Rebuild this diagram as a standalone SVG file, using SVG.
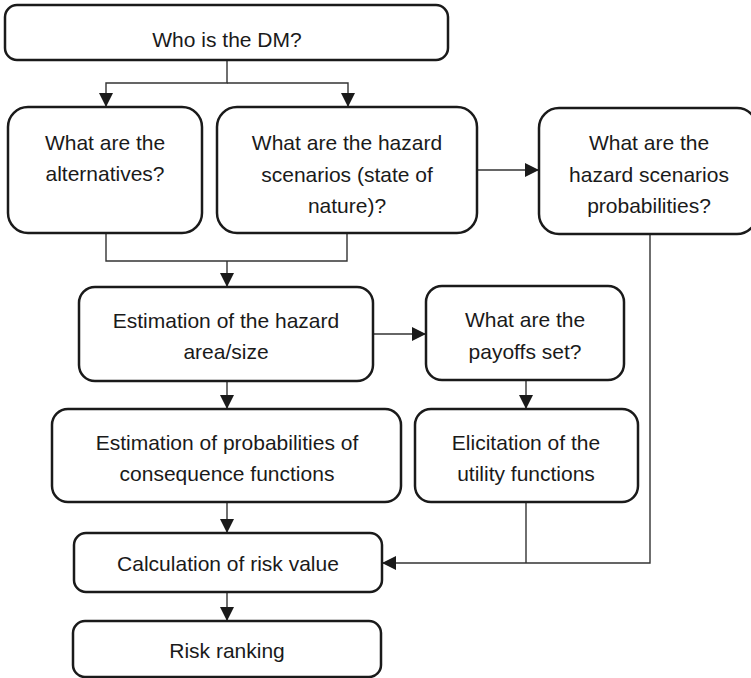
<svg xmlns="http://www.w3.org/2000/svg" width="751" height="678" viewBox="0 0 751 678">
  <style>
    .box { fill: #ffffff; stroke: #1a1a1a; stroke-width: 2.5; }
    .lbl { font-family: "Liberation Sans", Arial, sans-serif; font-size: 21px; fill: #1a1a1a; text-anchor: middle; }
    .wire { fill: none; stroke: #333333; stroke-width: 1.4; }
    .arrow { marker-end: url(#head); }
  </style>
  <defs>
    <marker id="head" markerUnits="userSpaceOnUse" viewBox="0 0 14 14" markerWidth="14" markerHeight="14" refX="14" refY="7" orient="auto">
      <path d="M0,0 L14,7 L0,14 z" fill="#1a1a1a"/>
    </marker>
  </defs>
  <rect width="751" height="678" fill="#ffffff"/>

  <g id="connectors">
    <path class="wire arrow" d="M227,60 V83 H106 V107"/>
    <path class="wire arrow" d="M227,83 H348 V107"/>
    <path class="wire" d="M106,233 V261 H347 V233"/>
    <path class="wire arrow" d="M227,261 V287"/>
    <path class="wire arrow" d="M477,170 H539"/>
    <path class="wire arrow" d="M373,334 H426"/>
    <path class="wire arrow" d="M227,381 V409"/>
    <path class="wire arrow" d="M526,380 V409"/>
    <path class="wire arrow" d="M227,502 V533"/>
    <path class="wire" d="M526,502 V563"/>
    <path class="wire arrow" d="M650,234 V563 H382"/>
    <path class="wire arrow" d="M227,592 V621"/>
  </g>

  <g id="who-is-dm">
    <rect class="box" x="5" y="5" width="443" height="55" rx="12"/>
    <text class="lbl" x="227" y="47">Who is the DM?</text>
  </g>

  <g id="alternatives">
    <rect class="box" x="8" y="107" width="194" height="126" rx="20"/>
    <text class="lbl" x="105" y="150">What are the</text>
    <text class="lbl" x="105" y="181">alternatives?</text>
  </g>

  <g id="hazard-scenarios">
    <rect class="box" x="217" y="107" width="260" height="126" rx="20"/>
    <text class="lbl" x="347" y="150">What are the hazard</text>
    <text class="lbl" x="347" y="182">scenarios (state of</text>
    <text class="lbl" x="347" y="213">nature)?</text>
  </g>

  <g id="scenario-probabilities">
    <rect class="box" x="539" y="108" width="218" height="126" rx="20"/>
    <text class="lbl" x="649" y="150">What are the</text>
    <text class="lbl" x="649" y="182">hazard scenarios</text>
    <text class="lbl" x="649" y="213">probabilities?</text>
  </g>

  <g id="hazard-area">
    <rect class="box" x="79" y="287" width="294" height="94" rx="16"/>
    <text class="lbl" x="226" y="328">Estimation of the hazard</text>
    <text class="lbl" x="226" y="359">area/size</text>
  </g>

  <g id="payoffs">
    <rect class="box" x="426" y="286" width="198" height="94" rx="16"/>
    <text class="lbl" x="525" y="327">What are the</text>
    <text class="lbl" x="525" y="359">payoffs set?</text>
  </g>

  <g id="consequence-probabilities">
    <rect class="box" x="52" y="409" width="349" height="93" rx="16"/>
    <text class="lbl" x="227" y="450">Estimation of probabilities of</text>
    <text class="lbl" x="227" y="481">consequence functions</text>
  </g>

  <g id="utility-functions">
    <rect class="box" x="415" y="409" width="223" height="93" rx="16"/>
    <text class="lbl" x="526" y="450">Elicitation of the</text>
    <text class="lbl" x="526" y="481">utility functions</text>
  </g>

  <g id="risk-value">
    <rect class="box" x="74" y="533" width="308" height="59" rx="12"/>
    <text class="lbl" x="228" y="571">Calculation of risk value</text>
  </g>

  <g id="risk-ranking">
    <rect class="box" x="73" y="621" width="308" height="56" rx="12"/>
    <text class="lbl" x="227" y="658">Risk ranking</text>
  </g>
</svg>
